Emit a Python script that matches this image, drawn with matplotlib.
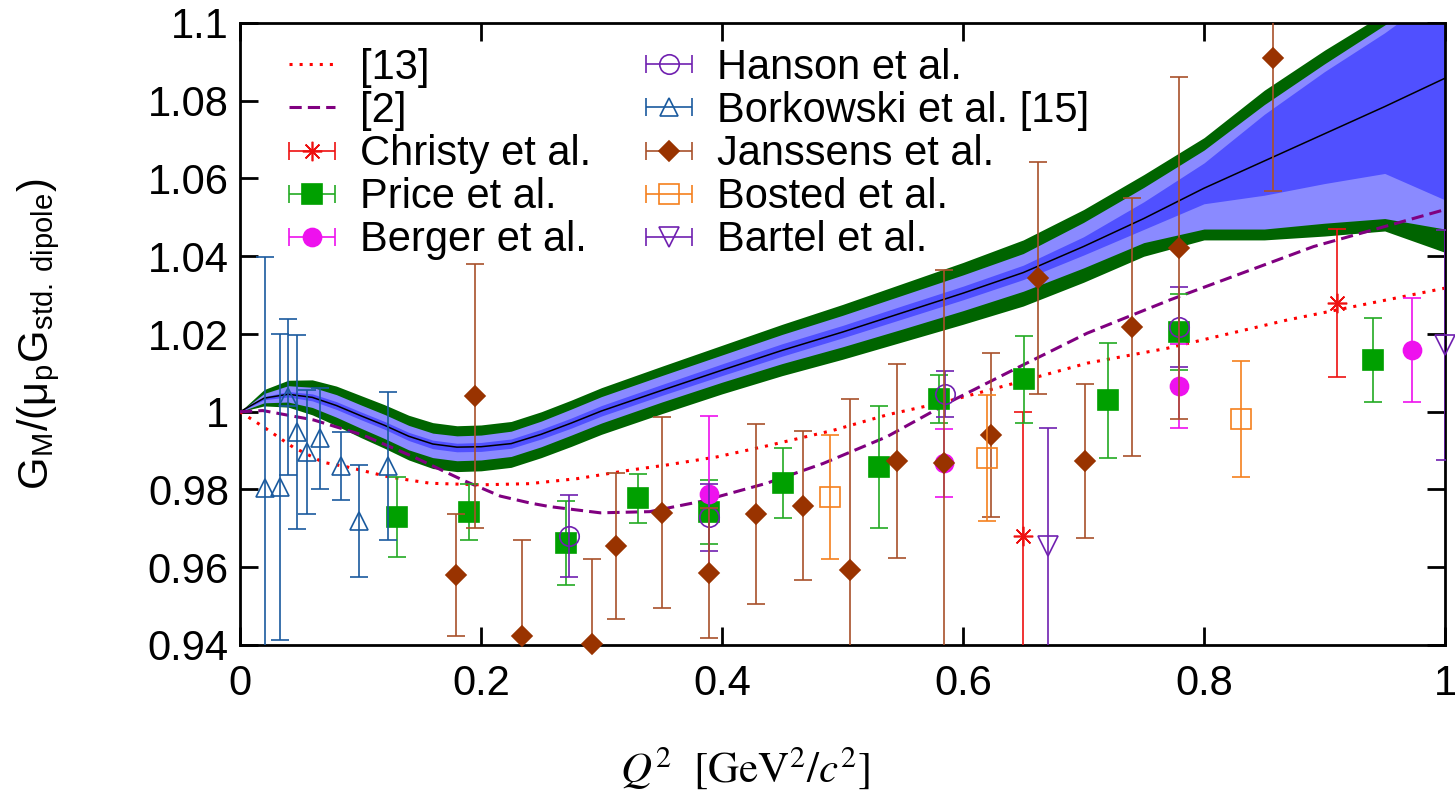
import numpy as np
import matplotlib
matplotlib.use("Agg")
import matplotlib.pyplot as plt
from matplotlib.container import ErrorbarContainer
from matplotlib.legend_handler import HandlerErrorbar

# fit band: centre line and half widths of the three nested bands
band_q2 = [0, 0.02, 0.04, 0.06, 0.08, 0.10, 0.12, 0.14, 0.16, 0.18, 0.20, 0.225, 0.25, 0.275,
           0.30, 0.35, 0.40, 0.45, 0.50, 0.55, 0.60, 0.65, 0.70, 0.75, 0.80, 0.85, 0.90,
           0.95, 1.00]
band_mid = [1.0, 1.0035, 1.0045, 1.0037, 1.0016, 0.999, 0.9965, 0.9937, 0.9917, 0.9909, 0.991,
            0.9918, 0.9942, 0.9971, 1.0002, 1.0055, 1.0107, 1.0158, 1.0205, 1.0255, 1.0305,
            1.0358, 1.0425, 1.0497, 1.0575, 1.0645, 1.0715, 1.0785, 1.0858]
dark_up = [0, .0004, .0007, .0009, .001, .001, .001, .001, .001, .001, .0011, .0012, .0013,
           .0013, .0014, .0015, .0016, .0017, .0017, .0018, .0018, .0019, .0025, .0043, .0065,
           .012, .016, .019, .023]
dark_dn = [0, .0004, .0007, .0009, .001, .001, .001, .0011, .0012, .0012, .0012, .0012, .0012,
           .0013, .0013, .0013, .0014, .0015, .0015, .0016, .0017, .0018, .0022, .0028, .004,
           .0088, .0128, .0172, .0313]
light_up = [0, .0012, .0022, .0026, .0028, .0028, .0028, .0028, .0028, .0029, .003, .0032,
            .0034, .0036, .0037, .0038, .0039, .0041, .0043, .0045, .0047, .0049, .0062, .008,
            .0098, .0145, .018, .021, .025]
light_dn = [0, .0012, .002, .0026, .003, .0032, .0034, .0035, .0035, .0035, .0034, .0033,
            .0032, .0031, .0031, .003, .0031, .0034, .0038, .0042, .0045, .0048, .0055, .0062,
            .0105, .0175, .023, .0288, .0388]
green_up = [0, .0022, .0036, .0045, .005, .0052, .0053, .0054, .0055, .0055, .0056, .0057,
            .0058, .0059, .006, .0062, .0064, .0067, .0071, .0075, .0079, .0084, .0095, .0113,
            .013, .0182, .0215, .024, .028]
green_dn = [0, .002, .0033, .0045, .0052, .0056, .0059, .0061, .0063, .0063, .0062, .0061,
            .006, .006, .006, .006, .0061, .0065, .007, .0075, .008, .0086, .0092, .0097,
            .0133, .0203, .0263, .032, .0448]

# model curves
ref13_q2 = [0, 0.02, 0.044, 0.069, 0.089, 0.124, 0.158, 0.20, 0.24, 0.28, 0.324, 0.354, 0.396,
            0.437, 0.492, 0.537, 0.586, 0.647, 0.703, 0.769, 0.869, 1.0]
ref13_gm = [1.0, 0.996, 0.9909, 0.987, 0.9858, 0.9832, 0.9816, 0.9812, 0.9815, 0.9828, 0.985,
            0.9863, 0.9884, 0.9912, 0.9952, 0.9992, 1.0026, 1.0077, 1.0125, 1.0163, 1.0236,
            1.0318]
ref2_q2 = [0, 0.019, 0.061, 0.102, 0.144, 0.185, 0.216, 0.241, 0.257, 0.299, 0.340, 0.382,
           0.437, 0.484, 0.537, 0.592, 0.647, 0.703, 0.772, 0.891, 1.0]
ref2_gm = [1.0, 1.0003, 0.9979, 0.994, 0.9884, 0.9824, 0.9783, 0.9765, 0.9756, 0.9740, 0.9743,
           0.9769, 0.9816, 0.9867, 0.9936, 1.003, 1.0116, 1.0202, 1.0288, 1.0425, 1.052]

# data sets
christy_q2 = [0.650, 0.910]
christy_gm = [0.968, 1.028]
christy_err = [0.032, 0.019]

price_q2 = [0.130, 0.190, 0.2705, 0.330, 0.389, 0.4506, 0.530, 0.580, 0.6506, 0.720, 0.779, 0.940]
price_gm = [0.9729, 0.9742, 0.9662, 0.9778, 0.9742, 0.9817, 0.9858, 1.0033, 1.0084, 1.003,
            1.0205, 1.0133]
price_err = [0.0103, 0.0072, 0.0108, 0.0063, 0.0082, 0.0091, 0.0157, 0.0062, 0.0112, 0.0148,
             0.0098, 0.0109]

berger_q2 = [0.389, 0.584, 0.779, 0.973]
berger_gm = [0.9788, 0.9868, 1.0066, 1.0159]
berger_err = [0.020, 0.0087, 0.0108, 0.0134]

hanson_q2 = [0.273, 0.389, 0.585, 0.779]
hanson_gm = [0.968, 0.9729, 1.0046, 1.0218]
hanson_err = [0.0106, 0.0086, 0.0059, 0.0102]

borkowski_q2 = [0.021, 0.033, 0.040, 0.047, 0.0555, 0.0664, 0.0838, 0.0988, 0.1228]
borkowski_gm = [0.9804, 0.9806, 1.0038, 0.9948, 0.9896, 0.9932, 0.986, 0.9719, 0.986]
borkowski_err = [0.0594, 0.0394, 0.020, 0.025, 0.016, 0.013, 0.0088, 0.0143, 0.019]

janssens_q2 = [0.179, 0.195, 0.234, 0.292, 0.312, 0.350, 0.389, 0.428, 0.467, 0.506, 0.545,
               0.584, 0.623, 0.662, 0.701, 0.740, 0.779, 0.857]
janssens_gm = [0.958, 1.0041, 0.9423, 0.9403, 0.9655, 0.974, 0.9585, 0.9737, 0.9758, 0.9593,
               0.9873, 0.9868, 0.994, 1.0344, 0.9873, 1.0218, 1.0421, 1.091]
janssens_err = [0.0157, 0.034, 0.0247, 0.0218, 0.0187, 0.0246, 0.0167, 0.0231, 0.0192, 0.044,
                0.025, 0.0497, 0.0211, 0.0298, 0.0199, 0.0333, 0.0439, 0.0342]

bosted_q2 = [0.4896, 0.620, 0.8307]
bosted_gm = [0.9781, 0.9881, 0.9981]
bosted_err = [0.016, 0.0161, 0.0149]

bartel_q2 = [0.6705, 1.0]
bartel_gm = [0.9655, 1.0172]
bartel_err = [0.0303, 0.0295]

x_ticks = [0, 0.2, 0.4, 0.6, 0.8, 1.0]
x_ticklabels = ["0", "0.2", "0.4", "0.6", "0.8", "1"]
y_ticks = [0.94, 0.96, 0.98, 1.0, 1.02, 1.04, 1.06, 1.08, 1.1]
y_ticklabels = ["0.94", "0.96", "0.98", "1", "1.02", "1.04", "1.06", "1.08", "1.1"]

plt.rcParams['font.family'] = ['Liberation Sans', 'DejaVu Sans']
plt.rcParams['mathtext.fontset'] = 'stix'

fig = plt.figure(figsize=(14.55, 7.94), dpi=100)
ax = fig.add_axes([240 / 1455, 1 - 645 / 794, 1205 / 1455, 622 / 794])

# band
q = np.array(band_q2)
mid = np.array(band_mid)
ax.fill_between(q, mid - np.array(green_dn), mid + np.array(green_up),
                color='#006400', lw=0, zorder=1.6)
ax.fill_between(q, mid - np.array(light_dn), mid + np.array(light_up),
                color='#8a8aff', lw=0, zorder=1.7)
ax.fill_between(q, mid - np.array(dark_dn), mid + np.array(dark_up),
                color='#5050ff', lw=0, zorder=1.8)
ax.plot(q, mid, color='black', lw=1.1, zorder=1.9)

handles = []
labels = []

l13, = ax.plot(ref13_q2, ref13_gm, color='#ff0000', lw=2.2, dashes=(1, 2.3),
               dash_capstyle='butt', zorder=3)
l2, = ax.plot(ref2_q2, ref2_gm, color='#800080', lw=2.2, dashes=(4, 2), zorder=3)
handles += [l13, l2]
labels += ["[13]", "[2]"]


def draw_set(q2, gm, err, marker, color, ecolor, ms, filled, label, z):
    ax.errorbar(q2, gm, yerr=err, fmt='none', ecolor=ecolor, elinewidth=1.2,
                capsize=6.5, capthick=1.2, zorder=z)
    face = color if filled else 'none'
    ax.plot(q2, gm, ls='none', marker=marker, ms=ms, mfc=face, mec=color, mew=1.2,
            clip_on=False, zorder=z + 0.1)
    proxy = ax.errorbar([np.nan], [np.nan], xerr=[0.1], fmt='', marker=marker, ls='none',
                        ms=ms, mfc=face, mec=color, mew=1.2, ecolor=ecolor,
                        elinewidth=1.2, capsize=6.5, capthick=1.2)
    handles.append(proxy)
    labels.append(label)


draw_set(christy_q2, christy_gm, christy_err, (8, 2, 0), '#ee1111', '#ee1111', 14, False,
         "Christy et al.", 4)
draw_set(price_q2, price_gm, price_err, 's', '#00a000', '#22aa22', 14, True,
         "Price et al.", 5)
draw_set(berger_q2, berger_gm, berger_err, 'o', '#ee11ee', '#ee11ee', 13, True,
         "Berger et al.", 6)
draw_set(hanson_q2, hanson_gm, hanson_err, 'o', '#7020b0', '#7020b0', 14, False,
         "Hanson et al.", 7)
draw_set(borkowski_q2, borkowski_gm, borkowski_err, '^', '#1a5a9e', '#1a5a9e', 12.5, False,
         "Borkowski et al. [15]", 8)
draw_set(janssens_q2, janssens_gm, janssens_err, 'D', '#993300', '#a8502a', 9.7, True,
         "Janssens et al.", 9)
draw_set(bosted_q2, bosted_gm, bosted_err, 's', '#f5801e', '#f5801e', 14, False,
         "Bosted et al.", 10)
draw_set(bartel_q2, bartel_gm, bartel_err, 'v', '#7020b0', '#7020b0', 14, False,
         "Bartel et al.", 11)

ax.set_xlim(0, 1)
ax.set_ylim(0.94, 1.1)
ax.set_xticks(x_ticks)
ax.set_xticklabels(x_ticklabels)
ax.set_yticks(y_ticks)
ax.set_yticklabels(y_ticklabels)
ax.tick_params(direction='in', length=13, width=2, top=True, right=True, labelsize=30)
ax.tick_params(axis='y', pad=8)
ax.tick_params(axis='x', pad=14)
for sp in ax.spines.values():
    sp.set_linewidth(2)

ax.set_xlabel(r'$Q^2\ \ [\mathrm{GeV}^2/c^2]$', fontsize=31)
ax.xaxis.set_label_coords(0.419, -0.16)
ax.set_ylabel(r'G$_\mathregular{M}$/(μ$_\mathregular{p}$G$_\mathregular{std.\ dipole}$)',
              fontsize=30)
ax.yaxis.set_label_coords(-0.148, 0.5)

ax.legend(handles, labels, ncol=2, loc='upper left', bbox_to_anchor=(0.041, 0.96),
          frameon=False, fontsize=30, handlelength=1.1, handletextpad=0.6,
          columnspacing=1.32, labelspacing=0.075, borderaxespad=0, borderpad=0,
          handler_map={ErrorbarContainer: HandlerErrorbar(xerr_size=0.55)})

fig.savefig("out.png", dpi=100)
